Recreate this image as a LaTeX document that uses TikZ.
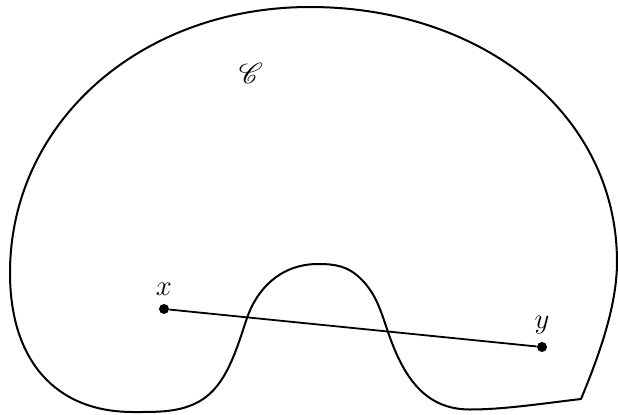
\documentclass[tikz,border=0pt]{standalone}
\usepackage{mathrsfs}
\tikzset{
  boundary/.style={line width=1pt, line join=round},
  seg/.style={line width=0.9pt},
  pt/.style={circle, fill=black, inner sep=0pt, minimum size=5pt},
  lbl/.style={font=\fontsize{14}{16}\selectfont, inner sep=1pt}
}
\begin{document}
\begin{tikzpicture}[x=0.5pt,y=-0.5pt]
\useasboundingbox (0,0) rectangle (618,414);
\draw[boundary] (581,399)
  .. controls (598,358) and (617,307) .. (617,262)
  .. controls (617,112) and (480,7) .. (310,7)
  .. controls (140,7) and (10,123) .. (10,273)
  .. controls (10,360) and (55,412) .. (133,412)
  .. controls (158,412) and (180,412.5) .. (200,401)
  .. controls (226,386) and (236,351) .. (247,318)
  .. controls (256.7,289.6) and (280,264) .. (318,264)
  .. controls (336,264) and (347.6,266.3) .. (360,278)
  .. controls (376,293.2) and (380.9,311.2) .. (388,332)
  .. controls (403.6,377.4) and (425,409.5) .. (470,409.5)
  .. controls (505,409.5) and (546,403) .. (581,399) -- cycle;
\node[pt] (x) at (164,309) {};
\node[pt] (y) at (542,347) {};
\draw[seg] (x) -- (y);
\node[lbl] (xl) at (164,289) {$x$};
\node[lbl] (yl) at (542,325) {$y$};
\node[lbl] (C) at (251,73) {$\mathscr{C}$};
\end{tikzpicture}
\end{document}
